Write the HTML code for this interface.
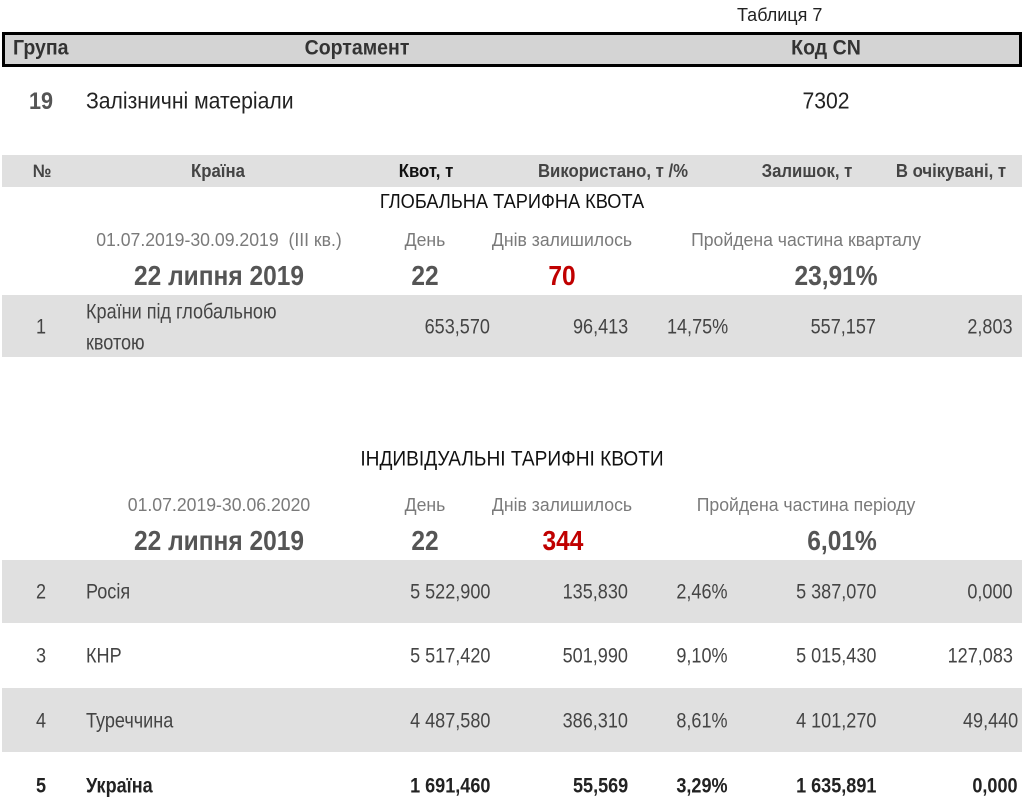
<!DOCTYPE html>
<html><head><meta charset="utf-8"><style>
html,body{margin:0;padding:0;background:#fff;}
body{width:1024px;height:808px;position:relative;overflow:hidden;font-family:"Liberation Sans",sans-serif;color:#3a3a3a;}
.b{position:absolute;background:#e0e0e0;left:2px;width:1020px;}
.c,.l,.r{position:absolute;white-space:nowrap;line-height:1;--s:.86;}
.c{transform:translate(-50%,-50%) scaleX(var(--s));}
.l{transform:translateY(-50%) scaleX(var(--s));transform-origin:left center;}
.r{transform:translateY(-50%) scaleX(var(--s));transform-origin:right center;}
.g{color:#7a7a7a;font-size:18px;--s:.98;}
.big{font-size:28px;font-weight:bold;color:#555;--s:.875;}
.red{color:#c00000;}
.hd{font-size:18px;font-weight:bold;color:#444;--s:.93;}
.n{font-size:21px;color:#444;--s:.86;}
.gh{font-size:21px;font-weight:bold;color:#333;--s:.93;}
</style></head><body>
<div class="l" style="left:737px;top:15px;font-size:18px;color:#222;--s:1;">Таблиця 7</div>
<div style="position:absolute;left:2px;top:32px;width:1014px;height:29px;background:#d4d4d4;border:3px solid #000;"></div>
<div class="l gh" style="left:13px;top:48px;">Група</div>
<div class="c gh" style="left:357px;top:48px;">Сортамент</div>
<div class="c gh" style="left:826px;top:48px;">Код CN</div>

<div class="l" style="left:29px;top:102px;font-size:24px;color:#555;font-weight:bold;--s:.9;">19</div>
<div class="l" style="left:86px;top:101px;font-size:23px;color:#222;--s:.92;">Залізничні матеріали</div>
<div class="c" style="left:826px;top:101px;font-size:23px;color:#222;--s:.92;">7302</div>

<div class="b" style="top:155px;height:32px;"></div>
<div class="c hd" style="left:42px;top:171px;">№</div>
<div class="c hd" style="left:218px;top:171px;">Країна</div>
<div class="c hd" style="left:426px;top:171px;color:#111;">Квот, т</div>
<div class="c hd" style="left:613px;top:171px;">Використано, т /%</div>
<div class="c hd" style="left:807px;top:171px;">Залишок, т</div>
<div class="c hd" style="left:951px;top:171px;">В очікувані, т</div>

<div class="c" style="left:512px;top:202px;font-size:20px;color:#111;--s:.91;">ГЛОБАЛЬНА ТАРИФНА КВОТА</div>
<div class="c g" style="left:219px;top:240px;">01.07.2019-30.09.2019&nbsp;&nbsp;(III кв.)</div>
<div class="c g" style="left:425px;top:240px;">День</div>
<div class="c g" style="left:562px;top:240px;">Днів залишилось</div>
<div class="c g" style="left:806px;top:240px;">Пройдена частина кварталу</div>
<div class="c big" style="left:219px;top:276px;">22 липня 2019</div>
<div class="c big" style="left:425px;top:276px;">22</div>
<div class="c big red" style="left:562px;top:276px;">70</div>
<div class="c big" style="left:836px;top:276px;">23,91%</div>

<div class="b" style="top:295px;height:62px;"></div>
<div class="c n" style="left:41px;top:327px;">1</div>
<div class="l n" style="left:86px;top:312px;">Країни під глобальною</div>
<div class="l n" style="left:86px;top:343px;">квотою</div>
<div class="r n" style="right:534px;top:327px;">653,570</div>
<div class="r n" style="right:396px;top:327px;">96,413</div>
<div class="r n" style="right:296px;top:327px;">14,75%</div>
<div class="r n" style="right:148px;top:327px;">557,157</div>
<div class="r n" style="right:11px;top:327px;">2,803</div>

<div class="c" style="left:512px;top:459px;font-size:21px;color:#111;--s:.91;">ІНДИВІДУАЛЬНІ ТАРИФНІ КВОТИ</div>
<div class="c g" style="left:219px;top:505px;">01.07.2019-30.06.2020</div>
<div class="c g" style="left:425px;top:505px;">День</div>
<div class="c g" style="left:562px;top:505px;">Днів залишилось</div>
<div class="c g" style="left:806px;top:505px;">Пройдена частина періоду</div>
<div class="c big" style="left:219px;top:541px;">22 липня 2019</div>
<div class="c big" style="left:425px;top:541px;">22</div>
<div class="c big red" style="left:563px;top:541px;">344</div>
<div class="c big" style="left:842px;top:541px;">6,01%</div>

<div class="b" style="top:560px;height:63px;"></div>
<div class="b" style="top:688px;height:64px;"></div>

<div class="c n" style="left:41px;top:592px;">2</div>
<div class="l n" style="left:86px;top:592px;">Росія</div>
<div class="r n" style="right:534px;top:592px;">5 522,900</div>
<div class="r n" style="right:396px;top:592px;">135,830</div>
<div class="r n" style="right:296px;top:592px;">2,46%</div>
<div class="r n" style="right:148px;top:592px;">5 387,070</div>
<div class="r n" style="right:11px;top:592px;">0,000</div>

<div class="c n" style="left:41px;top:656px;">3</div>
<div class="l n" style="left:86px;top:656px;">КНР</div>
<div class="r n" style="right:534px;top:656px;">5 517,420</div>
<div class="r n" style="right:396px;top:656px;">501,990</div>
<div class="r n" style="right:296px;top:656px;">9,10%</div>
<div class="r n" style="right:148px;top:656px;">5 015,430</div>
<div class="r n" style="right:11px;top:656px;">127,083</div>

<div class="c n" style="left:41px;top:721px;">4</div>
<div class="l n" style="left:86px;top:721px;">Туреччина</div>
<div class="r n" style="right:534px;top:721px;">4 487,580</div>
<div class="r n" style="right:396px;top:721px;">386,310</div>
<div class="r n" style="right:296px;top:721px;">8,61%</div>
<div class="r n" style="right:148px;top:721px;">4 101,270</div>
<div class="r n" style="right:6px;top:721px;">49,440</div>

<div class="c n" style="left:41px;top:786px;font-weight:bold;color:#222;">5</div>
<div class="l n" style="left:86px;top:786px;font-weight:bold;color:#222;">Україна</div>
<div class="r n" style="right:534px;top:786px;font-weight:bold;color:#222;">1 691,460</div>
<div class="r n" style="right:396px;top:786px;font-weight:bold;color:#222;">55,569</div>
<div class="r n" style="right:296px;top:786px;font-weight:bold;color:#222;">3,29%</div>
<div class="r n" style="right:148px;top:786px;font-weight:bold;color:#222;">1 635,891</div>
<div class="r n" style="right:6px;top:786px;font-weight:bold;color:#222;">0,000</div>
</body></html>
